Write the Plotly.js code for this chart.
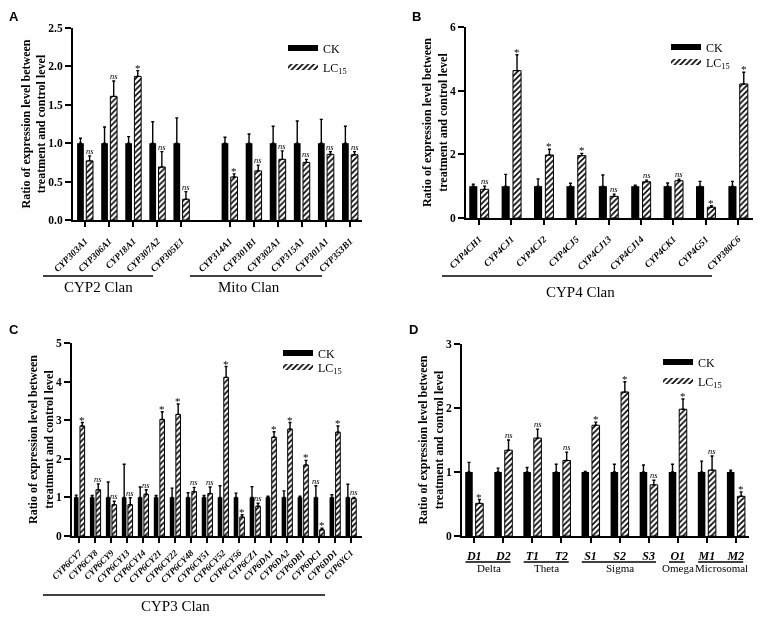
<!DOCTYPE html>
<html><head><meta charset="utf-8">
<script src="https://cdn.plot.ly/plotly-3.0.1.min.js"></script>
<style>html,body{margin:0;padding:0;background:#fff}#chart{width:767px;height:623px;will-change:transform}</style>
</head><body><div id="chart"></div>
<script>
// ---------- Panel A ----------
const genesA_CYP2 = ['CYP303A1','CYP306A1','CYP18A1','CYP307A2','CYP305E1'];
const genesA_Mito = ['CYP314A1','CYP301B1','CYP302A1','CYP315A1','CYP301A1','CYP353B1'];
const ckA    = [1,1,1,1,1,1,1,1,1,1,1];
const ckErrA = [0.065,0.21,0.085,0.28,0.33,0.077,0.12,0.22,0.29,0.31,0.22];
const lcA    = [0.77,1.61,1.87,0.69,0.27,0.56,0.64,0.79,0.75,0.855,0.85];
const lcErrA = [0.065,0.2,0.075,0.2,0.1,0.04,0.075,0.11,0.04,0.035,0.04];
const sigA   = ['ns','ns','*','ns','ns','*','ns','ns','ns','ns','ns'];
const clanA  = ['CYP2 Clan','Mito Clan'];

// ---------- Panel B ----------
const genesB = ['CYP4CH1','CYP4CJ1','CYP4CJ2','CYP4CJ5','CYP4CJ13','CYP4CJ14','CYP4CK1','CYP4G51','CYP380C6'];
const ckB    = [1,1,1,1,1,1,1,1,1];
const ckErrB = [0.06,0.37,0.23,0.09,0.35,0.03,0.1,0.15,0.15];
const lcB    = [0.9,4.63,1.98,1.96,0.68,1.14,1.17,0.34,4.21];
const lcErrB = [0.1,0.5,0.18,0.07,0.07,0.05,0.05,0.05,0.37];
const sigB   = ['ns','*','*','*','ns','ns','ns','*','*'];
const clanB  = 'CYP4 Clan';

// ---------- Panel C ----------
const genesC = ['CYP6CY7','CYP6CY8','CYP6CY9','CYP6CY13','CYP6CY14','CYP6CY21','CYP6CY22','CYP6CY48','CYP6CY51','CYP6CY52','CYP6CY56','CYP6CZ1','CYP6DA1','CYP6DA2','CYP6DB1','CYP6DC1','CYP6DD1','CYP6YC1'];
const ckC    = [1,1,1,1,1,1,1,1,1,1,1,1,1,1,1,1,1,1];
const ckErrC = [0.06,0.05,0.4,0.86,0.27,0.05,0.24,0.12,0.05,0.3,0.11,0.28,0.03,0.17,0.03,0.3,0.07,0.34];
const lcC    = [2.85,1.2,0.81,0.81,1.08,3.02,3.15,1.15,1.1,4.11,0.49,0.77,2.56,2.77,1.84,0.16,2.69,0.97];
const lcErrC = [0.09,0.15,0.09,0.18,0.12,0.2,0.27,0.11,0.17,0.28,0.06,0.08,0.14,0.17,0.12,0.04,0.16,0.03];
const sigC   = ['*','ns','ns','ns','ns','*','*','ns','ns','*','*','ns','*','*','*','*','*','ns'];
const ckSigC = ['','','','','','','','','','','','','','','','ns','',''];
const clanC  = 'CYP3 Clan';

// ---------- Panel D ----------
const genesD = ['D1','D2','T1','T2','S1','S2','S3','O1','M1','M2'];
const ckD    = [1,1,1,1,1,1,1,1,1,1];
const ckErrD = [0.15,0.06,0.07,0.12,0.01,0.12,0.11,0.12,0.17,0.03];
const lcD    = [0.51,1.34,1.53,1.18,1.73,2.25,0.8,1.98,1.03,0.62];
const lcErrD = [0.06,0.16,0.14,0.13,0.05,0.16,0.07,0.16,0.22,0.07];
const sigD   = ['*','ns','ns','ns','*','*','ns','*','ns','*'];
const classD = ['Delta','Theta','Sigma','Omega','Microsomal'];
const classSizeD = [2,2,3,1,2];

const seriesNames = ['CK','LC<sub>15</sub>'];
const yTitle = 'Ratio of expression level between<br>treatment and control level';

// ---------- helpers ----------
const W = 767, H = 623;
const FONT = '"Liberation Serif", "Times New Roman", Times, serif';
const px = v => v / W;
const py = v => 1 - v / H;

const slotsA = [...genesA_CYP2, '', ...genesA_Mito];
const genesA = [...genesA_CYP2, ...genesA_Mito];
const xA = genesA.map(g => slotsA.indexOf(g));
const xB = genesB.map((g, i) => i);
const xC = genesC.map((g, i) => i);
const xD = genesD.map((g, i) => i);

const hatch = {shape: '/', fgcolor: 'black', bgcolor: 'white', size: 4, solidity: 0.4};
const traces = [];
const annotations = [];
const shapes = [];

function addPanel(ax, xs, ck, ckErr, lc, lcErr, sig, geo) {
  const xr = 'x' + (ax === 1 ? '' : ax), yr = 'y' + (ax === 1 ? '' : ax);
  traces.push({
    type: 'bar', x: xs, y: ck, xaxis: xr, yaxis: yr, name: 'CK', showlegend: false,
    width: geo.w, offset: geo.ckOff,
    marker: {color: 'black', line: {width: 0}},
    error_y: {type: 'data', array: ckErr, arrayminus: ck.map(() => 0), symmetric: false,
              color: 'black', thickness: 1.4, width: 1.5},
    hoverinfo: 'skip'
  });
  traces.push({
    type: 'bar', x: xs, y: lc, xaxis: xr, yaxis: yr, name: 'LC15', showlegend: false,
    width: geo.w, offset: geo.lcOff,
    marker: {color: 'white', pattern: hatch, line: {color: 'black', width: 1}},
    error_y: {type: 'data', array: lcErr, arrayminus: lc.map(() => 0), symmetric: false,
              color: 'black', thickness: 1.4, width: 1.5},
    hoverinfo: 'skip'
  });
  sig.forEach((s, i) => {
    if (!s) return;
    annotations.push({
      xref: xr, yref: yr, x: xs[i] + geo.lcOff + geo.w / 2, y: lc[i] + lcErr[i],
      text: s, showarrow: false, yanchor: 'bottom',
      yshift: s === '*' ? -5 : -2,
      font: s === 'ns' ? {family: FONT, size: 8.5, style: 'italic', color: 'black'}
                       : {family: FONT, size: 11, color: 'black'}
    });
  });
}

const geoA = {w: 0.28, ckOff: -0.33, lcOff: 0.05};
const geoB = {w: 0.25, ckOff: -0.30, lcOff: 0.05};
const geoC = {w: 0.29, ckOff: -0.33, lcOff: 0.05};
const geoD = {w: 0.26, ckOff: -0.31, lcOff: 0.05};

addPanel(1, xA, ckA, ckErrA, lcA, lcErrA, sigA, geoA);
addPanel(2, xB, ckB, ckErrB, lcB, lcErrB, sigB, geoB);
addPanel(3, xC, ckC, ckErrC, lcC, lcErrC, sigC, geoC);
addPanel(4, xD, ckD, ckErrD, lcD, lcErrD, sigD, geoD);

// ns above CK bar in panel C
ckSigC.forEach((s, i) => {
  if (!s) return;
  annotations.push({
    xref: 'x3', yref: 'y3', x: xC[i] + geoC.ckOff + geoC.w / 2, y: ckC[i] + ckErrC[i],
    text: s, showarrow: false, yanchor: 'bottom', yshift: -2,
    font: {family: FONT, size: 8.5, style: 'italic', color: 'black'}
  });
});

// legend entries (one legend per entry so each sits where the reference has it)
const legendSpots = [
  [283, 48, 283, 67],   // A: x, y(CK), x, y(LC)
  [666, 47, 666, 62],   // B
  [278, 353, 278, 367], // C
  [658, 362, 658, 381]  // D
];
const legendLayouts = {};
let legN = 1;
legendSpots.forEach((sp, p) => {
  const ax = p === 0 ? '' : String(p + 1);
  [0, 1].forEach(k => {
    const lname = legN === 1 ? 'legend' : 'legend' + legN;
    traces.push({
      type: 'scatter', x: [null], y: [null], xaxis: 'x' + ax, yaxis: 'y' + ax,
      mode: 'none', fill: 'toself', name: seriesNames[k], legend: lname, showlegend: true,
      fillcolor: k === 0 ? 'black' : 'white',
      fillpattern: k === 0 ? undefined : {shape: '/', fgcolor: 'black', bgcolor: 'white', size: 4, solidity: 0.4},
      hoverinfo: 'skip'
    });
    legendLayouts[lname] = {
      x: px(sp[k * 2]), y: py(sp[k * 2 + 1]), xanchor: 'left', yanchor: 'middle',
      bgcolor: 'rgba(0,0,0,0)', borderwidth: 0,
      font: {family: FONT, size: 12, color: 'black'}, itemclick: false, itemdoubleclick: false
    };
    legN++;
  });
});

// panel letters
[['A', 14, 16], ['B', 416, 16], ['C', 14, 329], ['D', 414, 329]].forEach(l => {
  annotations.push({xref: 'paper', yref: 'paper', x: px(l[1]), y: py(l[2]), text: l[0],
    showarrow: false, xanchor: 'center', yanchor: 'middle',
    font: {family: '"Liberation Sans", Arial, sans-serif', size: 13, weight: 'bold', color: 'black'}});
});

// clan underline + label
function clan(x0, x1, yLine, text, xText, yText, size) {
  shapes.push({type: 'line', xref: 'paper', yref: 'paper', x0: px(x0), x1: px(x1), y0: py(yLine), y1: py(yLine),
               line: {color: 'black', width: 1.5}});
  annotations.push({xref: 'paper', yref: 'paper', x: px(xText), y: py(yText), text: text, showarrow: false,
                    xanchor: 'center', yanchor: 'middle', font: {family: FONT, size: size, color: 'black'}});
}
clan(43, 153, 276, clanA[0], 98, 287, 15);
clan(190, 322, 276, clanA[1], 249, 287, 15);
clan(442, 712, 276, clanB, 580, 292, 15);
clan(43, 325, 595, clanC, 175, 606, 15);

// panel D class underlines (data x) + labels
let start = 0;
classD.forEach((c, k) => {
  const first = start, last = start + classSizeD[k] - 1;
  shapes.push({type: 'line', xref: 'x4', yref: 'paper', x0: first - 0.3, x1: last + 0.25,
               y0: py(562), y1: py(562), line: {color: 'black', width: 1.5}});
  annotations.push({xref: 'x4', yref: 'paper', x: (first + last) / 2, y: py(568), text: c, showarrow: false,
                    xanchor: 'center', yanchor: 'middle', font: {family: FONT, size: 11, color: 'black'}});
  start += classSizeD[k];
});

function xaxis(domain, range, tickvals, ticktext, angle, size, standoff) {
  return {domain: domain, range: range, showline: true, linewidth: 2, linecolor: 'black',
          ticks: 'outside', ticklen: 5, tickwidth: 2, tickcolor: 'black', ticklabelstandoff: standoff,
          tickvals: tickvals, ticktext: ticktext, tickangle: angle,
          tickfont: {family: FONT, size: size, weight: 'bold', style: 'italic', color: 'black'},
          showgrid: false, zeroline: false, fixedrange: true};
}
function yaxis(domain, range, dtick, fmt, anchor) {
  return {domain: domain, range: range, dtick: dtick, tick0: 0, tickformat: fmt, anchor: anchor,
          showline: true, linewidth: 2, linecolor: 'black',
          ticks: 'outside', ticklen: 6, tickwidth: 2, tickcolor: 'black',
          tickfont: {family: FONT, size: 11.5, weight: 'bold', color: 'black'},
          title: {text: yTitle, font: {family: FONT, size: 12, weight: 'bold', color: 'black'}, standoff: 0},
          showgrid: false, zeroline: false, fixedrange: true};
}

const layout = Object.assign({
  width: W, height: H, margin: {l: 0, r: 0, t: 0, b: 0},
  paper_bgcolor: 'white', plot_bgcolor: 'white',
  barmode: 'overlay',
  font: {family: FONT, color: 'black'},
  xaxis:  Object.assign(xaxis([px(73), px(362)], [-0.5, 11.5], xA, genesA, -45, 9.5, 5), {anchor: 'y'}),
  yaxis:  yaxis([py(220), py(28)], [0, 2.5], 0.5, '.1f', 'x'),
  xaxis2: Object.assign(xaxis([px(466), px(753)], [-0.4, 8.46], xB, genesB, -45, 9.5, 5), {anchor: 'y2'}),
  yaxis2: yaxis([py(218), py(27)], [0, 6], 2, 'd', 'x2'),
  xaxis3: Object.assign(xaxis([px(72), px(362)], [-0.45, 17.7], xC, genesC, -45, 9, 1), {anchor: 'y3'}),
  yaxis3: yaxis([py(536), py(343)], [0, 5], 1, 'd', 'x3'),
  xaxis4: Object.assign(xaxis([px(462), px(749)], [-0.42, 9.45], xD, genesD, 0, 12, 3), {anchor: 'y4'}),
  yaxis4: yaxis([py(536), py(344)], [0, 3], 1, 'd', 'x4'),
  annotations: annotations, shapes: shapes
}, legendLayouts);

Plotly.newPlot('chart', traces, layout, {displayModeBar: false, staticPlot: true});
</script></body></html>
